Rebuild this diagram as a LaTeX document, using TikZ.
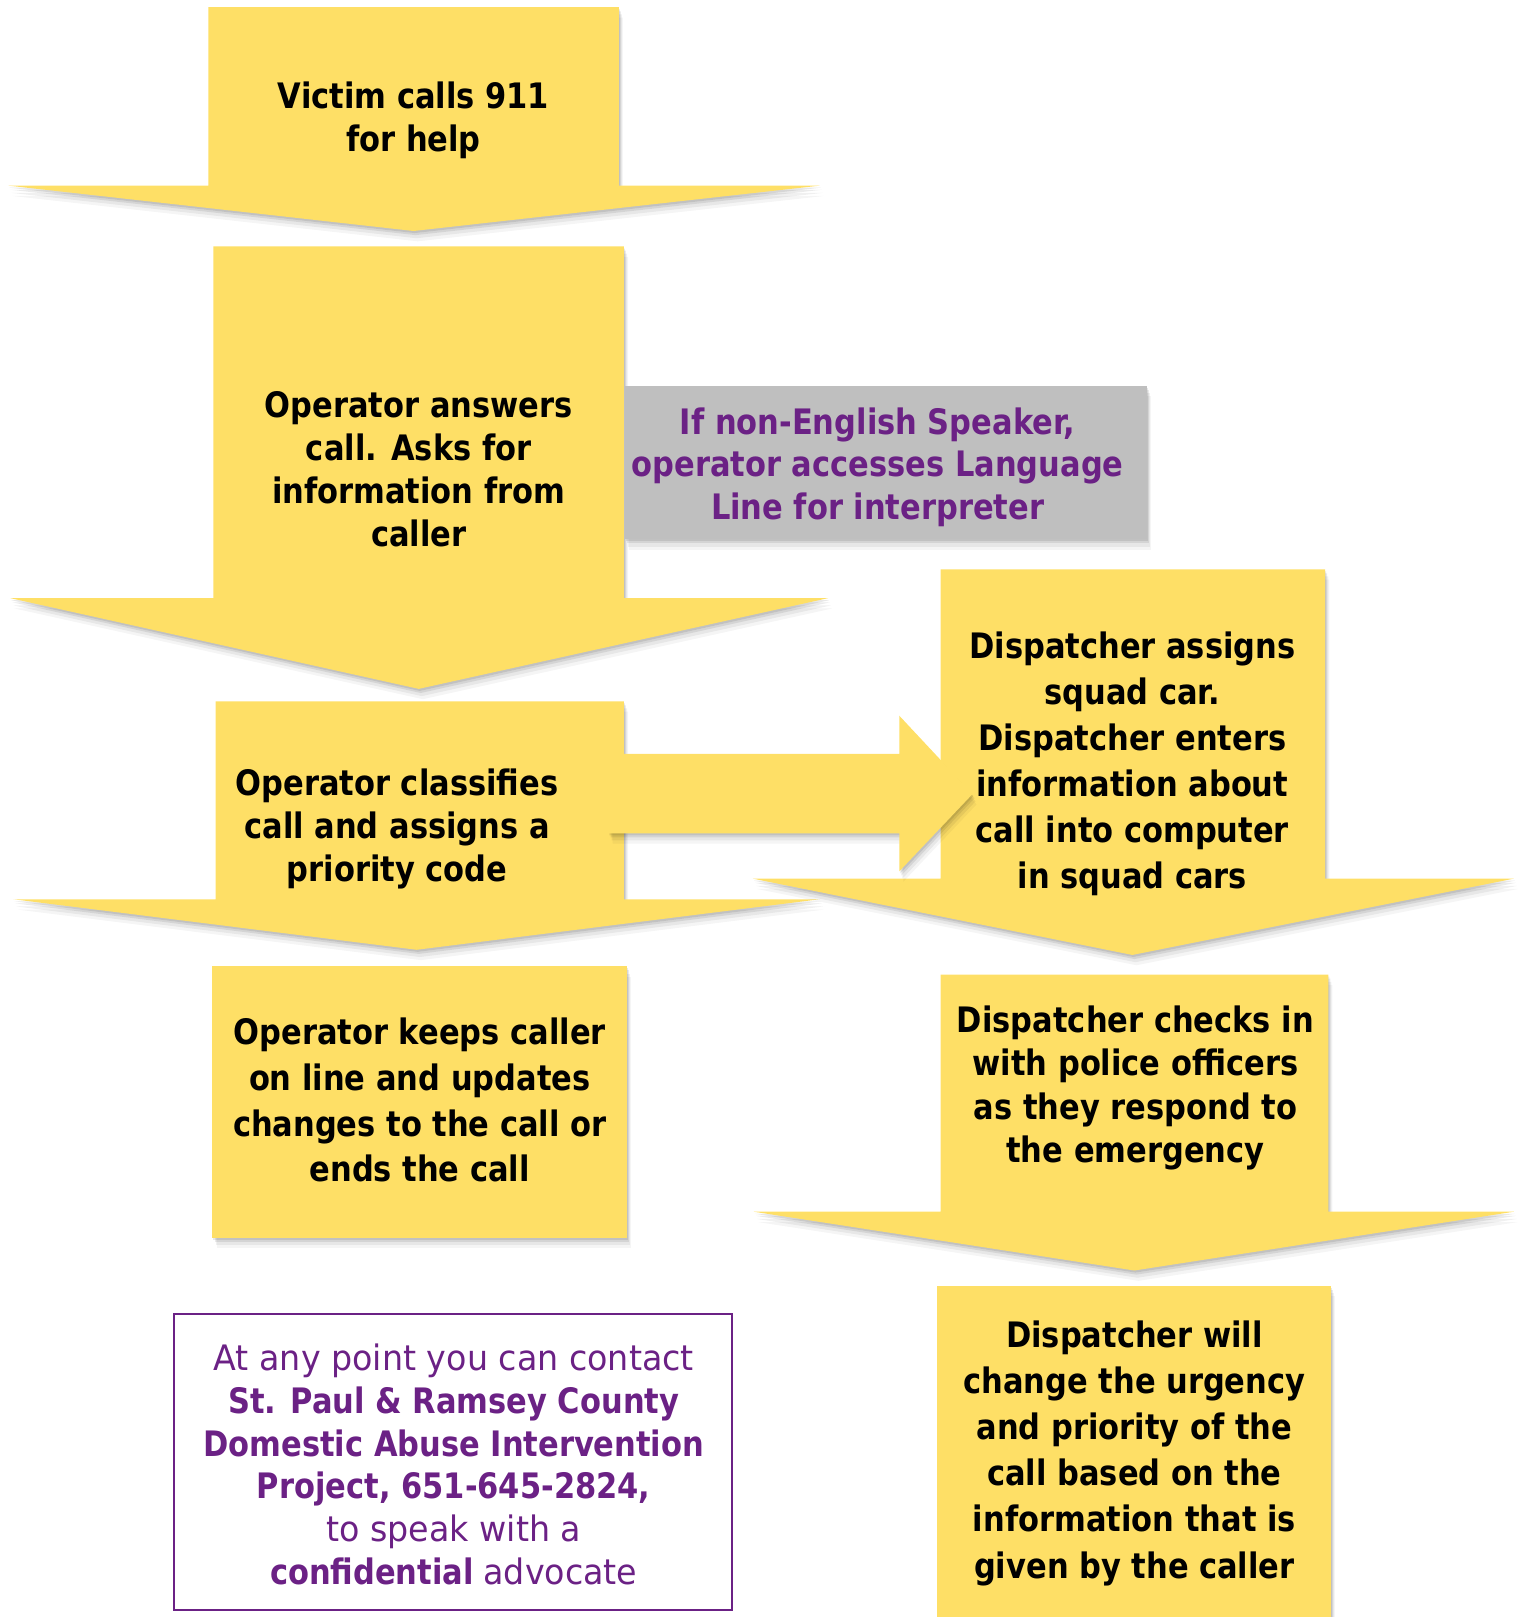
\documentclass[tikz,border=0pt]{standalone}
\usepackage{fontspec}
\newfontfamily\boxfont{DejaVu Sans}[FakeStretch=0.87]
\newfontfamily\regfont{DejaVu Sans}[FakeStretch=0.95]
\definecolor{myyellow}{RGB}{254,223,102}
\definecolor{mygray}{RGB}{191,191,191}
\definecolor{mypurple}{RGB}{107,33,133}
\tikzset{
  softshadow/.style={
    preaction={fill=black,opacity=0.09,transform canvas={xshift=1pt,yshift=-2pt}},
    preaction={fill=black,opacity=0.08,transform canvas={xshift=2pt,yshift=-4pt}},
    preaction={fill=black,opacity=0.06,transform canvas={xshift=3pt,yshift=-7pt}},
    preaction={fill=black,opacity=0.04,transform canvas={xshift=4pt,yshift=-10pt}}},
  yel/.style={fill=myyellow, softshadow},
  txt/.style={font=\boxfont\bfseries\fontsize{34}{41.5}\selectfont, align=center, text=black, inner sep=0pt},
  ptxt/.style={font=\boxfont\bfseries\fontsize{34}{41}\selectfont, align=center, text=mypurple, inner sep=0pt}
}
\begin{document}
\begin{tikzpicture}[x=1pt,y=1pt]
\useasboundingbox (0,0) rectangle (1481,-1568);
% arrow A
\path[yel] (202,-7) -- (600,-7) -- (600,-180) -- (795,-180) -- (401,-224) -- (8,-180) -- (202,-180) -- cycle;
\node[txt] (victim) at (401,-117) {Victim calls 911\\for help};
% arrow B
\path[yel] (207,-239) -- (605,-239) -- (605,-580) -- (803,-580) -- (406,-668) -- (10,-580) -- (207,-580) -- cycle;
\node[txt] (answer) at (406,-455) {Operator answers\\call. Asks for\\information from\\caller};
% gray box
\path[fill=mygray, softshadow] (606,-374) rectangle (1112,-523);
\node[ptxt] (lang) at (851,-453) {If non-English Speaker,\\operator accesses Language\\Line for interpreter};
% arrow C
\path[yel] (209,-680) -- (605,-680) -- (605,-872) -- (795,-872) -- (404,-921) -- (13,-872) -- (209,-872) -- cycle;
% arrow D
\path[yel] (912,-552) -- (1285,-552) -- (1285,-852) -- (1468,-852) -- (1098,-926) -- (730,-852) -- (912,-852) -- cycle;
\node[txt, font=\boxfont\bfseries\fontsize{34}{44.6}\selectfont] (assign) at (1098,-741) {Dispatcher assigns\\squad car.\\Dispatcher enters\\information about\\call into computer\\in squad cars};
% right arrow
\path[yel] (590,-731) -- (872,-731) -- (872,-694) -- (943,-770) -- (872,-845) -- (872,-808) -- (590,-808) -- cycle;
\node[txt] (classify) at (385,-804) {Operator classifies\\call and assigns a\\priority code};
% arrow E
\path[yel] (912,-945) -- (1288,-945) -- (1288,-1175) -- (1468,-1175) -- (1100,-1232) -- (731,-1175) -- (912,-1175) -- cycle;
\node[txt, font=\boxfont\bfseries\fontsize{34}{42}\selectfont] (checks) at (1101,-1055) {Dispatcher checks in\\with police officers\\as they respond to\\the emergency};
% box F
\path[yel] (206,-937) rectangle (608,-1200);
\node[txt, font=\boxfont\bfseries\fontsize{34}{44.3}\selectfont] (keeps) at (407,-1067) {Operator keeps caller\\on line and updates\\changes to the call or\\ends the call};
% box G
\path[yel] (909,-1247) rectangle (1291,-1572);
\node[txt, font=\boxfont\bfseries\fontsize{34}{44.8}\selectfont] (urgency) at (1100,-1409) {Dispatcher will\\change the urgency\\and priority of the\\call based on the\\information that is\\given by the caller};
% purple box
\draw[mypurple, line width=2pt] (169,-1274) rectangle (710,-1561);
\node[ptxt, font=\boxfont\fontsize{34}{41.4}\selectfont] (contact) at (440,-1420) {{\regfont At any point you can contact}\\\textbf{St. Paul \& Ramsey County}\\\textbf{Domestic Abuse Intervention}\\\textbf{Project, 651-645-2824,}\\{\regfont to speak with a}\\\textbf{confidential} {\regfont advocate}};
\end{tikzpicture}
\end{document}
